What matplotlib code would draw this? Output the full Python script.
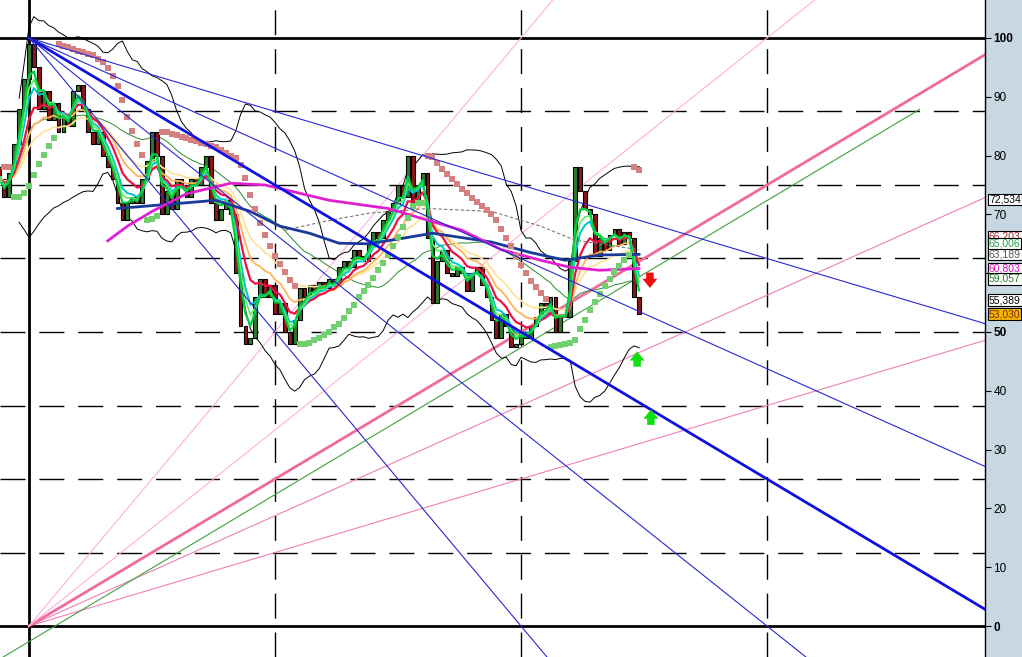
import numpy as np
import pandas as pd
import matplotlib
matplotlib.use('Agg')
import matplotlib.pyplot as plt
from matplotlib.transforms import blended_transform_factory

# price bars (bar index 0 = the 100 top)
first_bar = -6
first_open = 78
closes = [76, 73, 77, 82, 88, 93,
          99, 95, 88, 91, 86, 89, 84, 87, 85, 91,
          92, 88, 84, 82, 84, 80, 78, 76, 72, 69,
          72, 73, 72, 76, 79, 84, 80, 70, 74, 71,
          76, 75, 73, 76, 75, 78, 80, 72, 69, 71,
          72.5, 70, 60, 51, 48, 49, 56, 59, 56, 58,
          53, 55, 50, 48, 52, 57.5, 56, 58, 57, 58.5,
          57.5, 59, 58, 61, 62, 61, 64, 63, 62, 65,
          67, 66, 69, 70.5, 72, 75, 73, 80, 72, 75,
          77, 66, 55, 62, 64, 60, 59.5, 61, 60, 57,
          60, 61, 58, 56, 52, 49, 53, 51, 47.5, 48,
          50, 49, 51, 52.5, 55, 54, 56, 50, 53, 52.5,
          62, 78, 74, 71, 70, 63, 66, 64, 66.5, 67.5,
          65, 67, 66, 56, 53.03]

# slow averages
navy_idx = [18, 28, 38, 45, 51, 57, 63, 69, 75, 82, 94, 102, 109, 116, 124]
navy_val = [71.0, 71.7, 72.4, 70.5, 68.0, 66.8, 65.1, 65.0, 65.8, 66.8, 65.3, 63.5, 62.2, 63.1, 63.2]
mag_idx = [16, 20, 25, 32, 41, 48, 61, 73, 88, 96, 104, 110, 116, 124]
mag_val = [65.5, 68.0, 70.5, 73.5, 75.3, 75.0, 72.4, 71.0, 67.3, 64.0, 62.2, 61.0, 60.5, 60.8]
gray_idx = [52, 60, 69, 81, 94, 104, 111, 124]
gray_val = [67.3, 68.8, 70.2, 71.0, 70.5, 68.0, 65.6, 64.0]

# gann fans
fan_top = (0, 100)
fan_bottom = (0, 0)
unit = 0.5                     # points per bar of the 1x1 line
fan_ratios = [0.5, 0.75, 1.0, 4 / 3, 2.0]
parallel_start = 5.3           # bar where the green 1x1 parallel crosses 0
parallel_end = 181

# signals
sell_idx = [126.2]
sell_val = [58.8]
buy_idx = [123.6, 126.4]
buy_val = [45.4, 35.5]

# right hand value boxes
box_vals = [72.534, 66.203, 65.006, 63.189, 60.803, 59.057, 55.389, 53.030]
box_fg = ['black', '#a02828', '#20a040', '#555555', '#d010c0', '#208020', 'black', '#7a2a00']
box_bg = ['white', 'white', 'white', 'white', 'white', 'white', 'white', '#f4b800']

dashed_levels = [87.5, 75, 62.5, 50, 37.5, 25, 12.5]
solid_levels = [0, 100]
dashed_bars = [50, 100, 150]
yticks = [0, 10, 20, 30, 40, 50, 60, 70, 80, 90, 100]

n = len(closes)
x = np.arange(first_bar, first_bar + n)
c = np.array(closes, dtype=float)
o = np.r_[first_open, c[:-1]]
hi = np.maximum(o, c)
lo = np.minimum(o, c)
s = pd.Series(c)


def psar(high, low, af0=0.02, afmax=0.2):
    out = np.zeros(len(high))
    bull = np.zeros(len(high), bool)
    up, af, ep = True, af0, high[0]
    out[0] = low[0]
    bull[0] = True
    for k in range(1, len(high)):
        sv = out[k - 1] + af * (ep - out[k - 1])
        if up:
            sv = min(sv, low[k - 1], low[max(k - 2, 0)])
            if low[k] < sv:
                up, sv, ep, af = False, ep, low[k], af0
            elif high[k] > ep:
                ep, af = high[k], min(af + af0, afmax)
        else:
            sv = max(sv, high[k - 1], high[max(k - 2, 0)])
            if high[k] > sv:
                up, sv, ep, af = True, ep, high[k], af0
            elif low[k] < ep:
                ep, af = low[k], min(af + af0, afmax)
        out[k] = sv
        bull[k] = up
    return out, bull


fig = plt.figure(figsize=(10.22, 6.57), dpi=100, facecolor='#c8d8e2')
ax = fig.add_axes([0, 0, 985 / 1022, 1])
ax.set_facecolor('white')
ax.set_xlim(-29 / 4.92, 956 / 4.92)
ax.set_ylim(-5.27, 106.46)

# grid
for lv in dashed_levels:
    ax.axhline(lv, color='black', lw=1, dashes=(18, 10), zorder=1)
for b in dashed_bars:
    ax.axvline(b, color='black', lw=1, dashes=(18, 10), zorder=1)
for lv in solid_levels:
    ax.axhline(lv, color='black', lw=2, zorder=1)
ax.axvline(0, color='black', lw=2, zorder=1)

# gann lines (drawn long, clipped by the axes)
far = 300
for r in fan_ratios:
    sl = unit * r
    thick = r == 1.0
    ax.plot([fan_top[0], far], [fan_top[1], fan_top[1] - sl * (far - fan_top[0])],
            color='#1010e0' if thick else '#2828d0', lw=2.0 if thick else 0.8, zorder=6)
    pc = '#f06a9a' if thick else ('#f080b8' if r <= 0.75 else '#ffb0dd')
    ax.plot([fan_bottom[0], far], [fan_bottom[1], fan_bottom[1] + sl * (far - fan_bottom[0])],
            color=pc, lw=2.0 if thick else 0.8, zorder=2)
ax.plot([first_bar, parallel_end],
        [unit * (first_bar - parallel_start), unit * (parallel_end - parallel_start)],
        color='#40a040', lw=0.8, zorder=2)

# bollinger bands
mid = s.rolling(20, min_periods=5).mean()
sd = s.rolling(20, min_periods=5).std(ddof=0)
ax.plot(x, mid + 2 * sd, color='black', lw=0.7, zorder=3)
ax.plot(x, mid - 2 * sd, color='black', lw=0.7, zorder=3)
ax.plot(x, s.rolling(30, min_periods=1).mean(), color='#2e8b2e', lw=0.7, zorder=3)

# candles
up = c >= o
ax.bar(x, np.maximum(hi - lo, 0.4), bottom=lo, width=0.78,
       color=np.where(up, '#2f7a2a', '#8a1818'), edgecolor='black', lw=0.8, zorder=4)

# fast averages
for span, col, lw in [(18, '#ffe39a', 1.3), (12, '#ffb45a', 1.3), (8, '#ee1144', 1.6),
                      (5, '#00c4d4', 1.4), (4, '#66ee66', 1.3), (3, '#00d040', 1.6)]:
    ax.plot(x, s.ewm(span=span, adjust=False).mean(), color=col, lw=lw, zorder=5)

ax.plot(gray_idx, gray_val, color='#777777', lw=0.8, ls=(0, (3, 2)), zorder=5)
ax.plot(navy_idx, navy_val, color='#1a3a9a', lw=2.0, zorder=5)
ax.plot(mag_idx, mag_val, color='#e020d0', lw=2.0, zorder=5)

# parabolic sar
sar, bull = psar(hi, lo)
ax.scatter(x[~bull], sar[~bull], marker='s', s=14, color='#d48080', lw=0, zorder=5)
ax.scatter(x[bull], sar[bull], marker='s', s=14, color='#70d070', lw=0, zorder=5)

# signal arrows
arrow = 'simple,head_width=0.9,head_length=0.55,tail_width=0.45'
for xi, v in zip(sell_idx, sell_val):
    ax.annotate('', xy=(xi, v - 1.3), xytext=(xi, v + 1.3),
                arrowprops=dict(arrowstyle=arrow, color='#ee1010', lw=0, mutation_scale=12,
                                shrinkA=0, shrinkB=0), zorder=7)
for xi, v in zip(buy_idx, buy_val):
    ax.annotate('', xy=(xi, v + 1.3), xytext=(xi, v - 1.3),
                arrowprops=dict(arrowstyle=arrow, color='#10e010', lw=0, mutation_scale=12,
                                shrinkA=0, shrinkB=0), zorder=7)

# right axis
for sp in ['left', 'top', 'bottom']:
    ax.spines[sp].set_visible(False)
ax.spines['right'].set_linewidth(1)
ax.set_xticks([])
ax.yaxis.tick_right()
ax.set_yticks(yticks)
ax.tick_params(axis='y', direction='out', length=4, pad=2, labelsize=8.5)
for t in ax.get_yticklabels():
    t.set_fontfamily('Liberation Sans')
    if t.get_text() in ('0', '50', '100'):
        t.set_fontweight('bold')

tr = blended_transform_factory(ax.transAxes, ax.transData)
for v, fg, bg in zip(box_vals, box_fg, box_bg):
    ax.text(1.004, v, f'{v:.3f}'.replace('.', ','), transform=tr, color=fg,
            fontsize=7.5, family='Liberation Sans', va='center', ha='left', clip_on=False,
            bbox=dict(boxstyle='square,pad=0.08', fc=bg, ec='black', lw=0.8), zorder=8)

fig.savefig('out.png', dpi=100, facecolor=fig.get_facecolor())
